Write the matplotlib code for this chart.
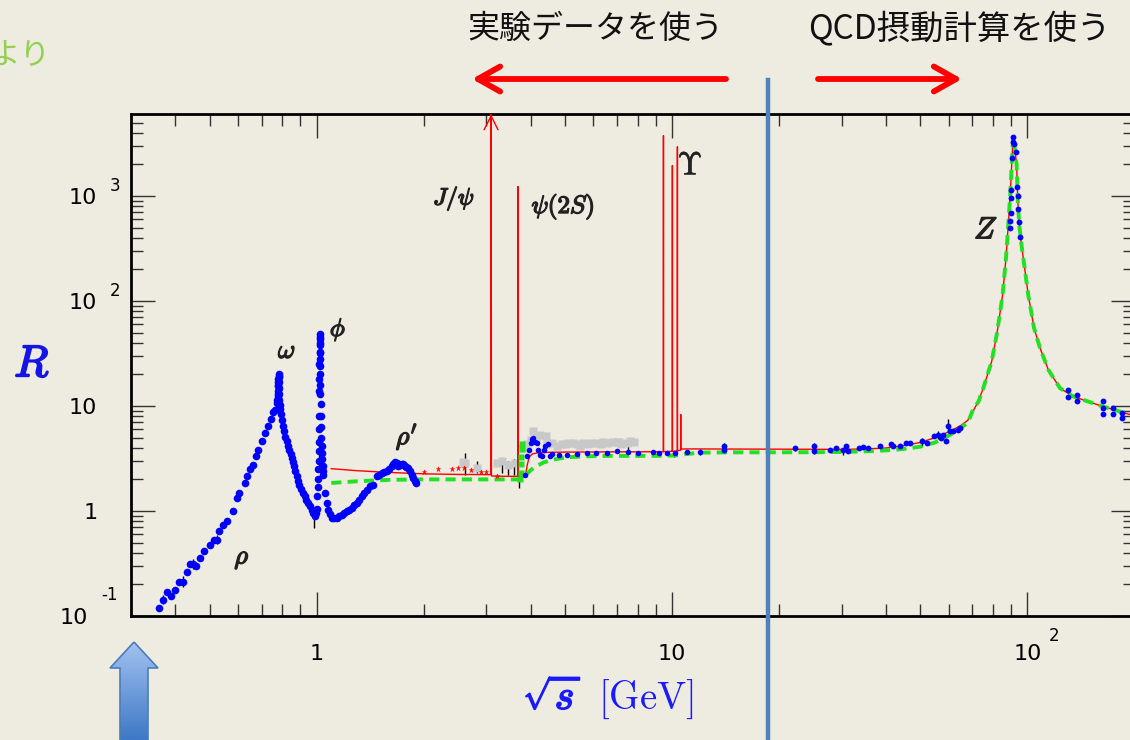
import matplotlib
matplotlib.use("Agg")
import matplotlib.pyplot as plt
import matplotlib.patheffects as pe
from matplotlib.patches import Polygon, FancyArrowPatch
from matplotlib.lines import Line2D
from matplotlib.colors import LinearSegmentedColormap
from matplotlib.ticker import FixedLocator, FixedFormatter, NullFormatter
import numpy as np

plt.rcParams["font.family"] = ["DejaVu Sans", "Noto Sans CJK JP"]
plt.rcParams["mathtext.fontset"] = "cm"

# --- data (sqrt(s) in GeV, R) ---
# blue points, low energy (rho, omega, phi, rho')
lo_x = [0.361, 0.371, 0.380, 0.390, 0.400, 0.411, 0.420, 0.431, 0.441, 0.450,
        0.458, 0.470, 0.483, 0.502, 0.515, 0.524, 0.533, 0.545, 0.559, 0.581,
        0.599, 0.607, 0.629, 0.639, 0.650, 0.664, 0.676, 0.686, 0.701, 0.716,
        0.732, 0.744, 0.753, 0.764, 0.773,
        0.776, 0.778, 0.7785, 0.779, 0.7795, 0.780, 0.7805, 0.781, 0.7815,
        0.782, 0.7822, 0.7825, 0.783, 0.784, 0.785, 0.787, 0.790, 0.794,
        0.798, 0.804, 0.810, 0.817, 0.825, 0.832, 0.839, 0.845, 0.852, 0.858,
        0.864, 0.872, 0.880, 0.887, 0.894, 0.904, 0.915, 0.925, 0.934, 0.946,
        0.959, 0.970, 0.980, 0.990, 0.996,
        1.000, 1.005, 1.007, 1.010, 1.012, 1.013, 1.014, 1.015, 1.016, 1.017,
        1.018, 1.0185, 1.019, 1.0192, 1.0195, 1.0198, 1.020, 1.0205, 1.021,
        1.0215, 1.022, 1.0225, 1.023, 1.024, 1.025, 1.026, 1.028, 1.030,
        1.032, 1.034, 1.036, 1.038, 1.040, 1.042, 1.044,
        1.057, 1.068, 1.079, 1.090, 1.104, 1.120, 1.140, 1.158, 1.177, 1.196,
        1.216, 1.236, 1.256, 1.276, 1.297, 1.318, 1.340, 1.362, 1.384, 1.414,
        1.445, 1.483, 1.50, 1.525, 1.55, 1.576, 1.60, 1.628, 1.645, 1.663,
        1.68, 1.699, 1.72, 1.737, 1.755, 1.775, 1.79, 1.813, 1.83, 1.853,
        1.87, 1.893, 1.91]
lo_r = [0.119, 0.141, 0.170, 0.154, 0.176, 0.211, 0.211, 0.263, 0.316, 0.316,
        0.297, 0.358, 0.420, 0.476, 0.534, 0.534, 0.641, 0.731, 0.810, 1.01,
        1.33, 1.49, 1.85, 2.14, 2.52, 2.77, 3.32, 3.85, 4.68, 5.54,
        6.51, 7.54, 8.71, 9.24, 10.7,
        11.5, 12.5, 13.0, 14.0, 15.5, 16.0, 17.0, 18.0, 19.0,
        19.5, 20.0, 17.0, 15.0, 13.0, 11.5, 10.3, 9.3, 8.4,
        7.42, 6.5, 5.74, 5.1, 4.61, 4.2, 3.85, 3.5, 3.20, 2.9,
        2.67, 2.4, 2.14, 1.95, 1.78, 1.62, 1.49, 1.38, 1.28, 1.19,
        1.11, 1.03, 0.96, 0.89, 0.95,
        1.05, 1.4, 1.7, 2.0, 2.5, 3.0, 3.7, 4.5, 6.0, 8.0,
        14, 18, 25, 32, 40, 45, 48, 43, 38,
        33, 28, 24, 20, 16, 13, 10.5, 8.0, 6.3,
        5.0, 4.2, 3.6, 3.1, 2.7, 2.4, 2.2,
        1.50, 1.2, 1.03, 0.93, 0.86, 0.85, 0.86, 0.89, 0.92, 0.96,
        0.99, 1.03, 1.07, 1.13, 1.19, 1.28, 1.38, 1.49, 1.60, 1.72,
        1.78, 2.14, 2.2, 2.31, 2.35, 2.39, 2.5, 2.67, 2.8, 2.91,
        2.85, 2.71, 2.75, 2.83, 2.8, 2.67, 2.6, 2.57, 2.4, 2.22,
        2.05, 1.92, 1.85]

# blue points, charm region and above
mid_x = [3.85, 3.9, 3.95, 4.0, 4.04, 4.07, 4.12, 4.16, 4.2, 4.25, 4.3, 4.35,
         4.4, 4.49, 4.53, 4.6, 4.8, 5.06, 5.4, 5.76, 6.1, 6.55, 7.0, 7.5,
         8.0, 8.84, 9.2, 9.7, 10.2, 11.0, 12.0]
mid_r = [2.2, 3.32, 3.8, 4.45, 4.8, 4.97, 4.5, 4.45, 3.84, 3.4, 3.32, 3.8,
         4.14, 4.3, 3.32, 3.5, 3.45, 3.44, 3.5, 3.57, 3.55, 3.57, 3.7, 3.65,
         3.6, 3.65, 3.6, 3.57, 3.55, 3.62, 3.62]

# blue points, Z region
z_x = [14.0, 14.0, 22.2, 25.1, 25.1, 27.8, 29.0, 30.3, 30.8, 31.3, 33.5,
       34.4, 35.5, 38.5, 41.2, 41.9, 43.8, 45.6, 46.6, 50.4, 52.2, 54.4,
       56.1, 57.0, 57.9, 58.8, 59.8, 60.6, 61.6, 63.8, 64.5,
       89.0, 89.0, 89.6, 89.8, 90.0, 90.7, 91.0, 91.2, 91.4, 92.9, 93.4,
       94.0, 94.1, 94.8, 95.3,
       130.0, 130.0, 137.6, 137.6, 162.6, 162.6, 162.6, 173.7, 173.7,
       184.0, 184.0]
z_r = [4.2, 3.84, 4.0, 4.2, 3.75, 3.84, 4.0, 3.78, 4.2, 3.7, 4.0,
       4.1, 4.0, 4.14, 4.35, 4.14, 4.2, 4.45, 4.45, 4.6, 4.45, 5.15,
       5.34, 4.97, 5.34, 4.6, 6.5, 5.74, 5.74, 5.97, 6.2,
       575, 495, 690, 965, 1150, 2300, 3300, 3620, 3100, 2640, 1230,
       1000, 755, 560, 405,
       14.3, 12.1, 12.8, 11.1, 11.1, 9.6, 8.3, 9.6, 8.3,
       8.6, 7.7]

# grey squares
grey_x = [2.58, 2.62, 2.82, 3.21, 3.32, 3.46, 3.61, 3.81, 3.9, 4.0, 4.07,
          4.15, 4.25, 4.43, 4.45, 4.6, 4.74, 4.9, 5.0, 5.1, 5.25, 5.39, 5.5,
          5.6, 5.76, 5.9, 6.13, 6.3, 6.4, 6.55, 6.8, 6.98, 7.1, 7.2, 7.45,
          7.6, 7.8]
grey_r = [2.9, 2.87, 2.57, 2.87, 2.97, 2.77, 2.87, 3.99, 4.3, 4.7, 5.74,
          4.8, 5.3, 5.15, 4.3, 4.4, 4.2, 4.35, 4.3, 4.45, 4.4, 4.3, 4.2,
          4.45, 4.35, 4.4, 4.45, 4.3, 4.5, 4.45, 4.55, 4.5, 4.5, 4.3, 4.45,
          4.6, 4.5]

# red stars
star_x = [2.0, 2.2, 2.4, 2.5, 2.6, 2.72, 2.91, 3.0, 3.21]
star_r = [2.34, 2.52, 2.52, 2.57, 2.55, 2.44, 2.36, 2.36, 2.14]

# green points near open charm threshold
gpt_x = [3.73, 3.75, 3.76, 3.77, 3.775, 3.78]
gpt_r = [2.0, 2.3, 2.8, 3.3, 3.9, 4.3]

# black error bars
err_x = [0.371, 0.420, 0.450, 0.524, 0.984, 1.018, 2.62, 2.82, 3.32, 3.46,
         3.6, 3.72, 7.5, 10.1, 12.0, 14.0, 22.2, 25.1, 30.3, 35.5, 50.4,
         56.1, 59.8]
err_lo = [0.13, 0.19, 0.28, 0.48, 0.69, 2.66, 2.2, 2.3, 2.3, 2.2,
          2.2, 1.66, 3.6, 3.3, 3.4, 3.7, 3.7, 3.5, 3.4, 3.8, 4.2,
          4.8, 5.6]
err_hi = [0.16, 0.24, 0.35, 0.59, 1.1, 3.58, 3.6, 3.0, 3.2, 3.0,
          3.1, 2.2, 4.5, 3.7, 3.9, 4.4, 4.2, 4.4, 4.0, 4.2, 5.0,
          5.8, 7.5]

# red solid curve (with narrow resonances)
jpsi_mass = 3.097
red_x = [1.1, 1.3, 1.6, 2.0, 2.5, 3.05, 3.09, 3.097, 3.104, 3.15, 3.4,
         3.66, 3.68, 3.686, 3.692, 3.71, 3.77, 3.82, 3.87, 3.92, 3.97,
         4.05, 4.2, 4.5, 5.0, 6.0, 7.0, 8.0, 9.0, 9.44, 9.455, 9.46, 9.465,
         9.48, 10.0, 10.018, 10.023, 10.028, 10.34, 10.352, 10.355, 10.358,
         10.50, 10.575, 10.58, 10.585, 10.62, 10.8, 12, 15, 20, 25, 30, 35,
         40, 45, 50, 55, 60.5, 65.3, 67.9, 70.4, 72.8, 75.1, 79.3, 82.2,
         85.1, 87.0, 88.3, 89.3, 90.3, 90.8, 91.2, 91.7, 92.2, 93.2, 94.0,
         94.8, 96.0, 97.3, 100.5, 104.3, 108.4, 114.4, 123.4, 134.6, 160,
         194, 200]
red_r = [2.53, 2.42, 2.33, 2.26, 2.23, 2.22, 2.22, 1e5, 2.16, 2.15, 2.14,
         2.14, 2.14, 1230, 2.12, 2.1, 2.1, 2.1, 2.2, 2.8, 3.3,
         3.5, 3.58, 3.62, 3.64, 3.65, 3.66, 3.66, 3.67, 3.67, 3.67, 3760,
         3.68, 3.68, 3.7, 3.7, 1950, 3.7, 3.72, 3.72, 2940, 3.75,
         3.78, 3.8, 8.3, 3.85, 3.88, 3.9, 3.9, 3.89, 3.88, 3.87, 3.86, 3.9,
         3.98, 4.2, 4.5, 5.0, 5.74, 6.6, 7.3, 9.0, 11.2, 14.8, 26.6, 51,
         114, 257, 534, 950, 2000, 3000, 3600, 3300, 2700, 1990, 850,
         534, 360, 257, 114, 55.4, 35.8, 22.2, 14.8, 12.3, 10.1,
         8.3, 8.1]

# green dashed curve (without resonances)
green_x = [1.1, 1.3, 1.6, 2.0, 2.5, 3.0, 3.5, 3.73, 3.8, 3.9, 4.07, 4.35,
           4.64, 5.06, 5.76, 6.56, 8.84, 10.0, 10.5, 11.0, 12.3, 15, 20,
           25, 30, 35, 40, 45, 50, 55, 60.5, 65.3, 67.9, 70.4, 72.8, 75.1,
           79.3, 82.2, 85.1, 87.0, 88.3, 89.3, 90.3, 90.8, 91.2, 91.7, 92.2,
           93.2, 94.0, 94.8, 96.0, 97.3, 100.5, 104.3, 108.4, 114.4, 123.4,
           134.6, 160, 194, 200]
green_r = [1.85, 1.92, 1.98, 2.0, 2.0, 2.0, 2.0, 2.0, 2.08, 2.25, 2.57, 2.9,
           3.09, 3.25, 3.32, 3.35, 3.35, 3.37, 3.4, 3.5, 3.6, 3.62, 3.62,
           3.63, 3.65, 3.7, 3.78, 3.9, 4.1, 4.5, 5.3, 6.3, 6.9, 9.4, 11.0,
           14.8, 26.6, 51, 114, 257, 534, 950, 2000, 3000, 3600, 3300, 2700,
           1990, 850, 534, 360, 257, 114, 55.4, 35.8, 22.2, 14.8,
           12.3, 10.1, 8.3, 8.1]

x_major = [1, 10, 100]
x_major_labels = ["1", "10", "10"]
x_minor = [0.4, 0.5, 0.6, 0.7, 0.8, 0.9, 2, 3, 4, 5, 6, 7, 8, 9,
           20, 30, 40, 50, 60, 70, 80, 90, 200]
y_major = [0.1, 1, 10, 100, 1000]
y_major_labels = ["", "1", "10", "10", "10"]
y_minor = [0.2, 0.3, 0.4, 0.5, 0.6, 0.7, 0.8, 0.9, 2, 3, 4, 5, 6, 7, 8, 9,
           20, 30, 40, 50, 60, 70, 80, 90, 200, 300, 400, 500, 600, 700, 800,
           900, 2000, 3000, 4000, 5000]

BG = "#eeebe1"
W, H = 1130, 740


def fx(px):
    return px / W


def fy(py):
    return 1 - py / H


fig = plt.figure(figsize=(W / 100, H / 100), dpi=100, facecolor=BG)
ax = fig.add_axes([fx(130.7), fy(616), (1134.5 - 130.7) / W, (616 - 114.3) / H])
ax.set_facecolor(BG)
ax.set_xscale("log")
ax.set_yscale("log")
ax.set_xlim(0.3, 200)
ax.set_ylim(0.1, 6000)

ax.xaxis.set_major_locator(FixedLocator(x_major))
ax.xaxis.set_major_formatter(FixedFormatter(x_major_labels))
ax.xaxis.set_minor_locator(FixedLocator(x_minor))
ax.xaxis.set_minor_formatter(NullFormatter())
ax.yaxis.set_major_locator(FixedLocator(y_major))
ax.yaxis.set_major_formatter(FixedFormatter(y_major_labels))
ax.yaxis.set_minor_locator(FixedLocator(y_minor))
ax.yaxis.set_minor_formatter(NullFormatter())

ax.tick_params(which="both", direction="in", top=True, right=True,
               color="#333333", width=1.0)
ax.tick_params(which="major", length=17)
ax.tick_params(which="minor", length=8.5)
ax.tick_params(axis="x", which="major", pad=20, labelsize=16)
ax.tick_params(axis="y", which="major", pad=24, labelsize=16)
for s in ax.spines.values():
    s.set_linewidth(2.0)

# curves and data
ax.plot(red_x, red_r, color="#ff0000", lw=1.0, zorder=3)
ax.plot(green_x, green_r, color="#22e022", lw=2.8, ls=(0, (2.6, 1.6)), zorder=4)
ax.vlines(err_x, err_lo, err_hi, color="black", lw=1.0, zorder=2)
ax.plot(grey_x, grey_r, "s", color="#c8c8c8", ms=5.5, mec="none", zorder=2)
ax.plot(star_x, star_r, "*", color="#ff0000", ms=5, mec="none", zorder=5)
ax.plot(gpt_x, gpt_r, "s", color="#22e022", ms=4, mec="none", zorder=5)
ax.plot(lo_x, lo_r, "o", color="#0000ff", ms=5.5, mec="none", zorder=5)
ax.plot(mid_x, mid_r, "o", color="#0000ff", ms=4, mec="none", zorder=5)
ax.plot(z_x, z_r, "o", color="#0000ff", ms=4.2, mec="none", zorder=6)
ax.annotate("", xy=(jpsi_mass, 6000), xytext=(jpsi_mass, 2000),
            arrowprops=dict(arrowstyle="->,head_length=0.5,head_width=0.25",
                            color="#ff0000", lw=1.0, mutation_scale=20,
                            shrinkA=0, shrinkB=0), zorder=3)

# superscripts of the tick labels (ROOT style)
fig.text(fx(115), fy(186), "3", fontsize=12, ha="center", va="center")
fig.text(fx(115), fy(291), "2", fontsize=12, ha="center", va="center")
fig.text(fx(74), fy(618), "10", fontsize=16, ha="center", va="center")
fig.text(fx(109), fy(595), "-1", fontsize=12, ha="center", va="center")
fig.text(fx(1054), fy(636), "2", fontsize=12, ha="center", va="center")

# physics labels


def label(px, py, s, size, color="#222222", stroke=1.0):
    fig.text(fx(px), fy(py), s, fontsize=size, color=color, ha="center",
             va="center",
             path_effects=[pe.withStroke(linewidth=stroke, foreground=color)])


label(287, 351, r"$\omega$", 19)
label(338, 330, r"$\phi$", 18)
label(242, 558, r"$\rho$", 19)
label(407, 437, r"$\rho'$", 19)
label(454, 198, r"$J/\psi$", 17)
label(563, 207, r"$\psi(2S)$", 18)
label(690, 166, r"$\Upsilon$", 23, stroke=0.4)
label(986, 230, r"$Z$", 22)
label(32, 364, r"$R$", 32, color="#1414e6", stroke=1.4)
label(552, 697, r"$\sqrt{s}$", 30, color="#1a1aff", stroke=1.2)
fig.text(fx(646), fy(699), r"$[\mathrm{GeV}]$", fontsize=28, color="#1a1aff",
         ha="center", va="center")

# Japanese headings
fig.text(fx(595), fy(29), "実験データを使う", fontsize=23, ha="center",
         va="center", family="Noto Sans CJK JP", color="#111111")
fig.text(fx(959), fy(29), "QCD摂動計算を使う", fontsize=24, ha="center",
         va="center", family="Noto Sans CJK JP", color="#111111")
fig.text(fx(50), fy(55), "より", fontsize=22, ha="right", va="center",
         family="Noto Sans CJK JP", color="#92d050")

# red arrows
for a, b in [((726, 79), (472, 79)), ((818, 79), (962, 79))]:
    arr = FancyArrowPatch((fx(a[0]), fy(a[1])), (fx(b[0]), fy(b[1])),
                          transform=fig.transFigure,
                          arrowstyle="->,head_length=0.8,head_width=0.45",
                          mutation_scale=20, color="#ff0000", lw=4.2,
                          shrinkA=0, shrinkB=0)
    fig.add_artist(arr)

# blue vertical divider
fig.add_artist(Line2D([fx(768), fx(768)], [fy(80), 0], transform=fig.transFigure,
                      color="#4f81bd", lw=3.2, zorder=20))

# blue block arrow at the bottom left
gax = fig.add_axes([fx(105), 0, 60 / W, (740 - 636) / H])
gax.axis("off")
gax.set_xlim(105, 165)
gax.set_ylim(740, 636)
cmap = LinearSegmentedColormap.from_list("blk", ["#a8c6f2", "#3e78c6"])
im = gax.imshow(np.linspace(0, 1, 64).reshape(-1, 1), extent=[105, 165, 740, 636],
                cmap=cmap, aspect="auto")
poly = Polygon([(134, 642), (158, 668), (148, 668), (148, 745), (120, 745),
                (120, 668), (110, 668)], closed=True, facecolor="none",
               edgecolor="#4a7ebb", lw=1.2)
gax.add_patch(poly)
im.set_clip_path(poly)

fig.savefig("out.png", dpi=100, facecolor=BG)
